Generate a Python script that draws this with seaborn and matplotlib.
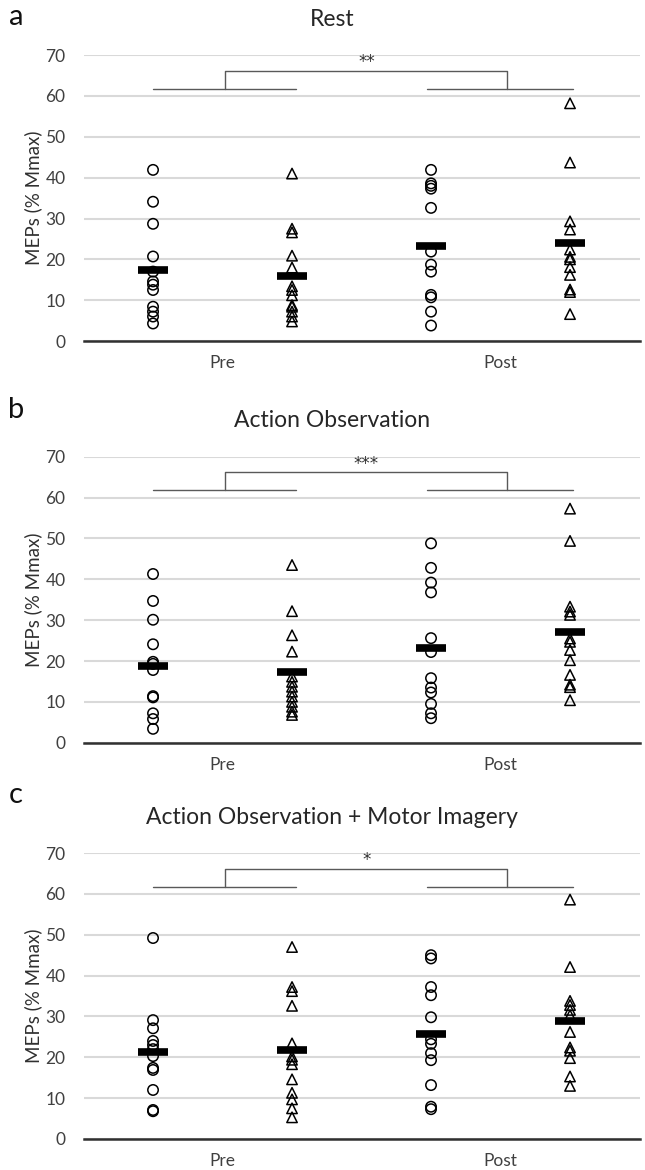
import numpy as np
import pandas as pd
import matplotlib
matplotlib.use("Agg")
import matplotlib.pyplot as plt
import seaborn as sns

sns.set_theme(style="white")
plt.rcParams["font.family"] = ["Lato", "DejaVu Sans"]

# --- data (MEPs, % Mmax) ---
sessions = ["Pre", "Post"]
groups = ["Group 1", "Group 2"]
group_markers = {"Group 1": "o", "Group 2": "^"}
panel_letters = ["a", "b", "c"]
panel_titles = ["Rest", "Action Observation", "Action Observation + Motor Imagery"]
sig_labels = ["**", "***", "*"]

rest_pre_g1 = [41.9, 34.1, 28.7, 20.7, 17.0, 14.6, 13.8, 12.5, 8.4, 7.2, 6.0, 4.3]
rest_pre_g2 = [41.0, 27.5, 26.6, 20.9, 18.0, 13.4, 12.5, 11.2, 8.8, 8.4, 7.2, 6.0, 4.8]
rest_post_g1 = [41.9, 38.6, 38.0, 37.3, 32.6, 21.9, 18.7, 17.0, 11.3, 10.7, 7.2, 3.8]
rest_post_g2 = [58.2, 43.7, 29.3, 27.3, 22.4, 20.6, 20.0, 18.1, 16.2, 12.6, 12.0, 6.6]

ao_pre_g1 = [41.3, 34.7, 30.1, 24.1, 19.8, 19.3, 17.8, 11.4, 11.1, 7.2, 5.8, 3.4]
ao_pre_g2 = [43.5, 32.2, 26.3, 22.3, 16.2, 14.9, 13.7, 12.5, 11.3, 10.0, 8.8, 7.6, 6.8]
ao_post_g1 = [48.8, 42.8, 39.2, 36.8, 25.6, 22.2, 15.8, 13.5, 12.3, 9.5, 7.2, 6.0]
ao_post_g2 = [57.3, 49.4, 33.3, 32.1, 31.3, 25.5, 24.7, 22.7, 20.2, 16.6, 14.2, 13.6, 10.4]

aomi_pre_g1 = [49.2, 29.1, 27.1, 24.0, 23.0, 22.0, 20.3, 17.4, 16.9, 12.0, 7.1, 6.8]
aomi_pre_g2 = [47.0, 37.2, 36.2, 32.6, 23.4, 20.2, 19.4, 18.3, 14.6, 11.3, 9.7, 7.5, 5.3]
aomi_post_g1 = [45.0, 44.2, 37.2, 35.2, 29.8, 24.4, 23.3, 21.0, 19.3, 13.2, 7.9, 7.3]
aomi_post_g2 = [58.6, 42.1, 33.8, 32.8, 31.6, 30.3, 26.2, 22.4, 21.6, 19.8, 15.3, 13.0]

panel_data = [
    [rest_pre_g1, rest_pre_g2, rest_post_g1, rest_post_g2],
    [ao_pre_g1, ao_pre_g2, ao_post_g1, ao_post_g2],
    [aomi_pre_g1, aomi_pre_g2, aomi_post_g1, aomi_post_g2],
]

# four columns: Pre/G1, Pre/G2, Post/G1, Post/G2
col_order = [f"{s}|{g}" for s in sessions for g in groups]

text_col = "#404040"
grid_col = "#d9d9d9"

fig = plt.figure(figsize=(6.45, 11.7), dpi=100)
bottoms = [0.7085, 0.3652, 0.0265]
ax_h = 0.2444
ax_left, ax_w = 0.1295, 0.862

title_y = [1 - 19 / 1170, 1 - 420 / 1170, 1 - 817 / 1170]
letter_y = [1 - 17 / 1170, 1 - 410 / 1170, 1 - 795 / 1170]

for i in range(3):
    ax = fig.add_axes([ax_left, bottoms[i], ax_w, ax_h])

    rows = []
    for col, vals in zip(col_order, panel_data[i]):
        s, g = col.split("|")
        for v in vals:
            rows.append({"column": col, "session": s, "group": g, "mep": v})
    df = pd.DataFrame(rows)

    # individual subjects, open markers
    for g in groups:
        sns.stripplot(data=df[df["group"] == g], x="column", y="mep",
                      order=col_order, jitter=False, marker=group_markers[g],
                      size=7.5, color="black", facecolor="none",
                      edgecolor="black", linewidth=1.1, ax=ax)
    for coll in ax.collections:
        coll.set_facecolor("none")

    # group means as thick black bars
    sns.pointplot(data=df, x="column", y="mep", order=col_order,
                  estimator="mean", errorbar=None, color="black",
                  marker="_", linestyle="none", markersize=21,
                  markeredgewidth=5.5, zorder=5, ax=ax)

    ax.set_xlim(-0.5, 3.5)
    ax.set_ylim(0, 70)
    ax.set_yticks(np.arange(0, 71, 10))
    ax.set_xticks([0.5, 2.5])
    ax.set_xticklabels(sessions)
    ax.yaxis.grid(True, color=grid_col, linewidth=1.5)
    ax.xaxis.grid(False)
    ax.set_axisbelow(True)
    for side in ["left", "right", "top"]:
        ax.spines[side].set_visible(False)
    ax.spines["bottom"].set_color("#303030")
    ax.spines["bottom"].set_linewidth(1.8)
    ax.spines["bottom"].set_zorder(6)
    ax.tick_params(axis="both", length=0, labelsize=12.5, colors=text_col)
    ax.tick_params(axis="y", pad=13)
    ax.tick_params(axis="x", pad=10)
    ax.set_xlabel("")
    ax.set_ylabel("MEPs (% Mmax)", fontsize=13.5, color="#303030")
    ax.yaxis.set_label_coords(-0.074, 0.5)

    # significance bracket
    br_col = "#595959"
    ax.plot([0, 1.03], [61.8, 61.8], color=br_col, lw=1.0)
    ax.plot([1.97, 3.02], [61.8, 61.8], color=br_col, lw=1.0)
    ax.plot([0.52, 0.52, 2.55, 2.55], [61.8, 66.2, 66.2, 61.8], color=br_col, lw=1.0)
    ax.text(1.535, 68.3, sig_labels[i], ha="center", va="center",
            fontsize=12, color="#303030", family="DejaVu Sans")

    fig.text(332 / 645, title_y[i], panel_titles[i], ha="center", va="center",
             fontsize=16.5, color="#262626")
    fig.text(16 / 645, letter_y[i], panel_letters[i], ha="center", va="center",
             fontsize=21, color="#111111")

fig.savefig("out.png", dpi=100)
